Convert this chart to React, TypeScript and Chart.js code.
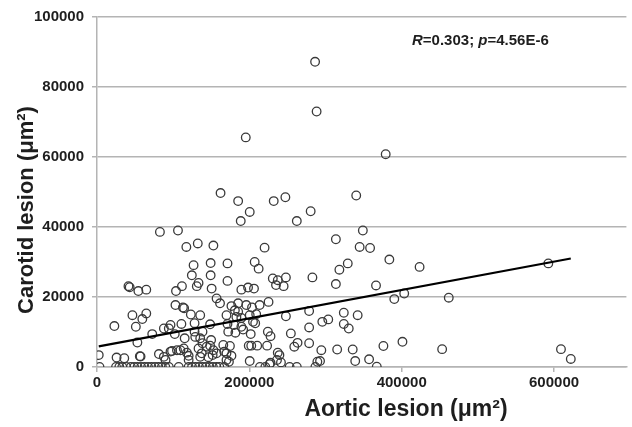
import React, { useEffect, useRef } from "react";
import { Chart, registerables } from "chart.js";

Chart.register(...registerables);

// Aortic lesion (µm²) – x values
const aorticLesion: number[] = [
  286300, 288300, 379000, 195300, 162200, 185300, 200500, 188700, 232000, 247300,
  280500, 262300, 340300, 82600, 106300, 117300, 132300, 152800, 220000, 313600,
  349000, 344800, 358500, 383800, 126800, 149200, 171300, 207000, 212200, 124500,
  149200, 133300, 131000, 150500, 111500, 103700, 41300, 42900, 54300, 64700,
  171300, 189500, 198300, 206100, 230800, 237300, 248000, 235000, 245000, 282800,
  423500, 318200, 329200, 313600, 366300, 403300, 592500, 157000, 161500, 103000,
  112800, 114400, 46500, 64700, 59500, 51000, 22800, 135500, 123200, 72500,
  87800, 96500, 110800, 128100, 102100, 115100, 128100, 138500, 148500, 176500,
  181000, 185300, 196000, 203500, 213500, 225200, 170000, 183000, 200500, 209000,
  207700, 171300, 180000, 189500, 172300, 181700, 191800, 201800, 224300, 227800,
  248000, 254500, 278500, 278500, 295800, 303600, 324000, 324000, 330500, 342200,
  390300, 461800, 94300, 185300, 204800, 189500, 53000, 135500, 138500, 149800,
  144000, 129000, 165800, 174500, 113800, 105000, 96500, 120300, 170000, 176500,
  263300, 259000, 278500, 294500, 237300, 239500, 199200, 202500, 210300, 223300,
  167000, 200500, 170000, 173200, 227800, 236300, 289300, 315300, 335700, 292800,
  339000, 357200, 367300, 376000, 401000, 453100, 609100, 622000, 2300, 25700,
  35800, 56200, 57200, 81300, 87800, 98500, 109500, 118000, 135500, 146300,
  157000, 120300, 90000, 241500, 226500, 133300, 148500, 152800, 151800, 137500,
  3300, 25000, 29300, 33200, 38400, 44500, 48800, 53300, 57900, 62400,
  67000, 71500, 76100, 80600, 85200, 89700, 94300, 107300, 120300, 124800,
  129400, 133900, 138500, 143000, 147600, 152100, 156700, 160600, 167100, 213900,
  221000, 252900, 262300, 286700,
];

// Carotid lesion (µm²) – y values
const carotidLesion: number[] = [
  87200, 73000, 60800, 65600, 49700, 47400, 44300, 41700, 47400, 48500,
  44500, 41700, 49000, 38600, 39000, 34300, 35300, 34700, 34100, 36500,
  39000, 34300, 34000, 30700, 29100, 29700, 29600, 30000, 28100, 26200,
  26200, 24000, 23100, 22400, 23100, 21700, 23100, 22800, 21700, 22100,
  24600, 22100, 22700, 22400, 25300, 24800, 25600, 23400, 23100, 25600,
  28600, 27800, 29600, 23700, 23300, 21000, 29600, 19600, 18200, 17700,
  17000, 16800, 14800, 15300, 13700, 11500, 11700, 14800, 15000, 9400,
  11000, 12000, 12300, 12500, 9400, 8200, 10100, 10100, 12200, 17400,
  16200, 15800, 17700, 17000, 17700, 18600, 14800, 14300, 14800, 15100,
  12500, 12300, 12000, 11500, 10100, 9800, 10700, 9400, 10100, 8800,
  14500, 9600, 16000, 11300, 12900, 13600, 15500, 12300, 11000, 14800,
  19400, 19800, 11000, 18200, 12900, 14000, 7000, 8200, 6800, 7700,
  5800, 8600, 6300, 6000, 5300, 4800, 4400, 3200, 3900, 3200,
  6900, 5800, 6800, 4800, 4100, 3400, 6100, 6100, 6100, 6100,
  4400, 1700, 2000, 1500, 1200, 2000, 1500, 5000, 5000, 1700,
  1700, 2200, 100, 6000, 7200, 5100, 5100, 2300, 3400, 2700,
  2500, 3100, 3000, 3700, 2900, 4600, 4800, 4100, 2900, 2800,
  3900, 2000, 2000, 1300, 800, 5300, 6100, 4800, 3400, 3900,
  0, 0, 0, 0, 0, 0, 0, 0, 0, 0,
  0, 0, 0, 0, 0, 0, 0, 0, 0, 0,
  0, 0, 0, 0, 0, 0, 0, 0, 0, 0,
  0, 0, 0, 0,
];

// Regression line end points
const trendX: number[] = [2300, 622000];
const trendY: number[] = [5900, 31000];

const xTicks: number[] = [0, 200000, 400000, 600000];
const yTicks: number[] = [0, 20000, 40000, 60000, 80000, 100000];

const xTitle = "Aortic lesion (μm²)";
const yTitle = "Carotid lesion (μm²)";
const statR = "0.303";
const statP = "4.56E-6";

const FONT = "'Liberation Sans', Arial, Helvetica, sans-serif";
const TEXT = "#1e1e1e";
const GRID = "#b4b4b4";

const textPlugin = {
  id: "texts",
  afterDraw(chart: any) {
    const { ctx, chartArea } = chart;
    ctx.save();
    ctx.fillStyle = TEXT;
    ctx.textBaseline = "middle";

    // statistics annotation
    let x = chartArea.left + 315;
    const y = chartArea.top + 24;
    const parts: [string, boolean][] = [
      ["R", true],
      ["=" + statR + "; ", false],
      ["p", true],
      ["=" + statP, false],
    ];
    ctx.textAlign = "left";
    for (const [t, it] of parts) {
      ctx.font = `${it ? "italic " : ""}bold 15px ${FONT}`;
      ctx.fillText(t, x, y);
      x += ctx.measureText(t).width;
    }

    // axis titles
    ctx.textAlign = "center";
    ctx.font = `bold 23px ${FONT}`;
    ctx.fillText(xTitle, chartArea.left + 309, chartArea.bottom + 43);

    ctx.translate(27, chartArea.top + 193);
    ctx.rotate(-Math.PI / 2);
    ctx.font = `bold 22px ${FONT}`;
    ctx.fillText(yTitle, 0, 0);
    ctx.restore();
  },
};

export default function App() {
  const ref = useRef<HTMLCanvasElement | null>(null);

  useEffect(() => {
    document.body.style.margin = "0";
    const canvas = ref.current;
    if (!canvas) return;
    const points = aorticLesion.map((x, i) => ({ x, y: carotidLesion[i] }));
    const trend = trendX.map((x, i) => ({ x, y: trendY[i] }));
    const chart = new Chart(canvas, {
      type: "scatter",
      data: {
        datasets: [
          {
            type: "line",
            data: trend,
            borderColor: "#000",
            borderWidth: 2.2,
            pointRadius: 0,
            showLine: true,
            fill: false,
            order: 0,
          } as any,
          {
            data: points,
            pointRadius: 4.3,
            pointBorderWidth: 1.3,
            pointBorderColor: "#3a3a3a",
            pointBackgroundColor: "rgba(0,0,0,0)",
            order: 1,
          },
        ],
      },
      options: {
        responsive: false,
        animation: false,
        layout: { padding: { top: 16, right: 0, left: 0, bottom: 0 } },
        plugins: {
          legend: { display: false },
          tooltip: { enabled: false },
        },
        scales: {
          x: {
            type: "linear",
            min: 0,
            max: 695000,
            afterFit: (s: any) => {
              s.height = 60;
            },
            afterBuildTicks: (s: any) => {
              s.ticks = xTicks.map((v) => ({ value: v }));
            },
            ticks: {
              includeBounds: false,
              color: TEXT,
              font: { family: FONT, size: 15, weight: "bold" },
              padding: 2,
              maxRotation: 0,
              callback: (v: any) => String(v),
            },
            grid: {
              drawOnChartArea: false,
              drawTicks: true,
              tickLength: 5,
              color: GRID,
              lineWidth: 1.5,
            },
            border: { color: GRID, width: 1.5 },
            title: { display: false, text: xTitle },
          },
          y: {
            type: "linear",
            min: 0,
            max: 100000,
            afterFit: (s: any) => {
              s.width = 97;
            },
            afterBuildTicks: (s: any) => {
              s.ticks = yTicks.map((v) => ({ value: v }));
            },
            ticks: {
              color: TEXT,
              font: { family: FONT, size: 15, weight: "bold" },
              padding: 8,
              callback: (v: any) => String(v),
            },
            grid: {
              drawTicks: true,
              tickLength: 5,
              color: GRID,
              lineWidth: 1.5,
            },
            border: { color: GRID, width: 1.5 },
            title: { display: false, text: yTitle },
          },
        },
      },
      plugins: [textPlugin],
    });
    return () => chart.destroy();
  }, []);

  return (
    <div style={{ position: "fixed", left: 0, top: 0, width: 632, height: 427, background: "#fff" }}>
      <canvas ref={ref} width={632} height={427} style={{ width: 632, height: 427, display: "block" }} />
    </div>
  );
}
